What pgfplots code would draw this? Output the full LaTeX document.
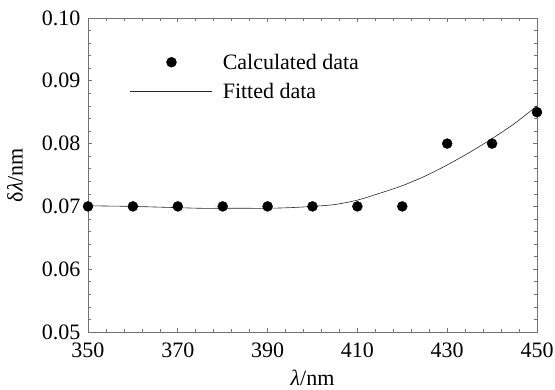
\documentclass[border=0pt]{standalone}
\usepackage{fontspec}
\setmainfont{Liberation Serif}
\usepackage{pgfplots}
\pgfplotsset{compat=1.18}
\begin{document}
\fontsize{22}{26}\selectfont
\begin{tikzpicture}
\begin{axis}[
  scale only axis,
  width=449pt, height=314pt,
  xmin=350, xmax=450, ymin=0.05, ymax=0.10,
  xtick={350,370,390,410,430,450},
  ytick={0.05,0.06,0.07,0.08,0.09,0.10},
  minor x tick num=4,
  minor y tick num=4,
  tick align=inside,
  major tick length=4pt,
  minor tick length=3pt,
  axis line style={black!55, line width=0.8pt},
  every tick/.style={black!55, line width=0.6pt},
  /pgf/number format/assume math mode=true,
  yticklabel={\pgfmathprintnumber[fixed,fixed zerofill,precision=2]{\tick}},
  xticklabel style={/pgf/number format/1000 sep={}, yshift=-3pt},
  tick label style={font=\fontsize{22}{26}\selectfont},
  label style={font=\fontsize{22}{26}\selectfont},
  xlabel={\textit{λ}/nm},
  ylabel={δ\textit{λ}/nm},
  xlabel style={at={(axis description cs:0.5,-0.1465)}, anchor=center},
  ylabel style={at={(axis description cs:-0.1626,0.5)}, anchor=center},
  clip=false,
  legend style={draw=none, fill=none, at={(0.0935,0.882)}, anchor=north west,
    inner sep=0pt,
    font=\fontsize{22}{26}\selectfont, row sep=15pt,
    nodes={inner sep=0pt, text height=14pt, text depth=0pt},
    /tikz/every odd column/.append style={column sep=10pt}},
  legend cell align=left,
  legend image code/.code={\draw[mark repeat=2,mark phase=2,#1] plot coordinates {(0pt,0pt) (41pt,0pt) (82pt,0pt)};},
]
\coordinate (sw) at (rel axis cs:0,0);
\addplot[only marks, mark=*, mark size=5pt, black] coordinates {
(350,0.070) (360,0.070) (370,0.070) (380,0.070) (390,0.070) (400,0.070)
(410,0.070) (420,0.070) (430,0.080) (440,0.080) (450,0.085)
};
\addlegendentry{Calculated data}
\addplot[black!85, line width=0.6pt, smooth, mark=none] coordinates {
(350,0.0701) (355,0.07005) (360,0.0700) (365,0.0699) (370,0.0698) (375,0.0697)
(380,0.0697) (385,0.0697) (390,0.0697) (395,0.0698) (400,0.0700) (405,0.0703)
(410,0.0710) (415,0.0721) (420,0.0733) (425,0.0748) (430,0.0766) (435,0.0786)
(440,0.0808) (445,0.0832) (450,0.0860)
};
\addlegendentry{Fitted data}
\end{axis}
\pgfresetboundingbox
\path (sw) ++(-88pt,-58pt) rectangle ++(555pt,390pt);
\end{tikzpicture}
\end{document}
